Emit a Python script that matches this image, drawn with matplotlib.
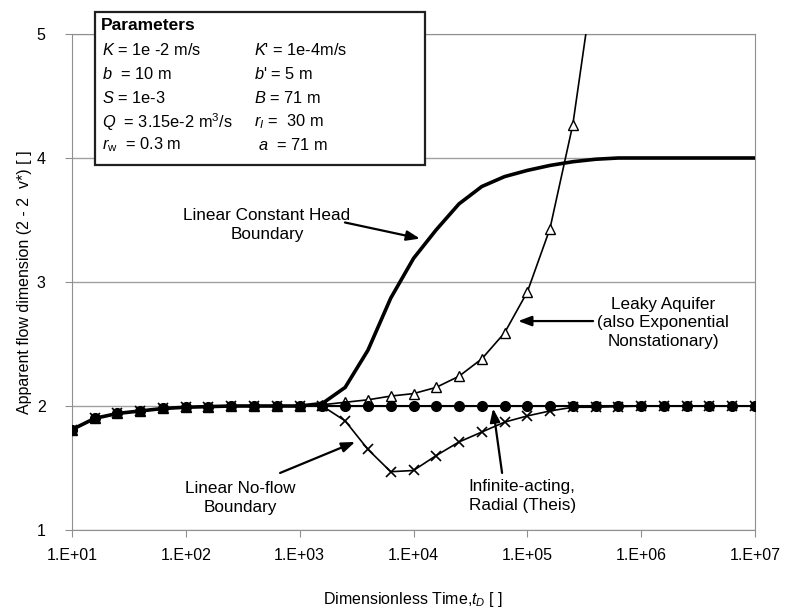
import matplotlib
matplotlib.use("Agg")
import numpy as np
import matplotlib.pyplot as plt
from matplotlib.patches import Rectangle

plt.rcParams['font.family'] = ['Liberation Sans', 'DejaVu Sans']
plt.rcParams['mathtext.fontset'] = 'custom'
plt.rcParams['mathtext.rm'] = 'Liberation Sans'
plt.rcParams['mathtext.it'] = 'Liberation Sans:italic'

# dimensionless time (0.2 decade steps)
t_D = [1.0e1, 1.58e1, 2.51e1, 3.98e1, 6.31e1, 1.0e2, 1.58e2, 2.51e2, 3.98e2, 6.31e2,
       1.0e3, 1.58e3, 2.51e3, 3.98e3, 6.31e3, 1.0e4, 1.58e4, 2.51e4, 3.98e4, 6.31e4,
       1.0e5, 1.58e5, 2.51e5, 3.98e5, 6.31e5, 1.0e6, 1.58e6, 2.51e6, 3.98e6, 6.31e6, 1.0e7]

early = [1.81, 1.90, 1.94, 1.96, 1.98, 1.99, 1.995, 2.0, 2.0, 2.0, 2.0]

theis = early + [2.0] * 20
const_head = early + [2.02, 2.15, 2.45, 2.87, 3.19, 3.42, 3.63, 3.77, 3.85, 3.90,
                      3.94, 3.97, 3.99, 4.0, 4.0, 4.0, 4.0, 4.0, 4.0, 4.0]
leaky = early + [2.01, 2.03, 2.05, 2.08, 2.10, 2.15, 2.24, 2.38, 2.59, 2.92,
                 3.43, 4.27, 5.55] + [np.nan] * 7
no_flow = early + [2.0, 1.88, 1.65, 1.47, 1.48, 1.60, 1.71, 1.79, 1.87, 1.92,
                   1.96, 1.99, 1.99, 1.995, 2.0, 2.0, 2.0, 2.0, 2.0, 2.0]

x_ticks = [1e1, 1e2, 1e3, 1e4, 1e5, 1e6, 1e7]
x_tick_labels = ['1.E+01', '1.E+02', '1.E+03', '1.E+04', '1.E+05', '1.E+06', '1.E+07']
y_ticks = [1, 2, 3, 4, 5]

fig = plt.figure(figsize=(7.88, 6.12), dpi=100)
ax = fig.add_axes([72 / 788, 1 - 530 / 612, (755 - 72) / 788, (530 - 34) / 612])

ax.plot(t_D, const_head, color='black', lw=2.6, zorder=3)
ax.plot(t_D, leaky, color='black', lw=1.2, marker='^', ms=7, mfc='white',
        mec='black', mew=1.0, zorder=4)
ax.plot(t_D, no_flow, color='black', lw=1.2, marker='x', ms=7, mew=1.2, zorder=5)
ax.plot(t_D, theis, color='black', lw=1.5, marker='o', ms=7, zorder=6)

ax.set_xscale('log')
ax.set_xlim(1e1, 1e7)
ax.set_ylim(1, 5)
ax.set_xticks(x_ticks)
ax.set_xticklabels(x_tick_labels)
ax.xaxis.set_minor_locator(matplotlib.ticker.NullLocator())
ax.set_yticks(y_ticks)
ax.yaxis.grid(True, color='#a0a0a0', lw=1.0)
ax.set_axisbelow(True)
for s in ax.spines.values():
    s.set_color('#909090')
ax.tick_params(colors='#909090', labelcolor='black', labelsize=11.5, length=5,
               direction='out')
ax.tick_params(axis='x', pad=8)
ax.tick_params(axis='y', pad=14)

ax.set_xlabel('Dimensionless Time,$t_D$ [ ]', fontsize=11.5)
ax.xaxis.set_label_coords(0.5, -0.12)
ax.set_ylabel('Apparent flow dimension (2 - 2  v*) [ ]', fontsize=11.5)
ax.yaxis.set_label_coords(-0.058, 0.5)

# annotations
fs = 12.3
arrow = dict(arrowstyle='-|>,head_length=0.8,head_width=0.3', color='black',
             lw=1.6, shrinkA=0, shrinkB=0)
ax.text(516, 3.46, 'Linear Constant Head\nBoundary', ha='center', va='center',
        fontsize=fs, linespacing=1.35)
ax.annotate('', xy=(11400, 3.35), xytext=(2500, 3.48), arrowprops=arrow)

ax.text(1.56e6, 2.67, 'Leaky Aquifer\n(also Exponential\nNonstationary)',
        ha='center', va='center', fontsize=fs, linespacing=1.3)
ax.annotate('', xy=(8.3e4, 2.685), xytext=(3.78e5, 2.685), arrowprops=arrow)

ax.text(9.0e4, 1.274, 'Infinite-acting,\nRadial (Theis)', ha='center',
        va='center', fontsize=fs, linespacing=1.35)
ax.annotate('', xy=(5.0e4, 1.98), xytext=(6.0e4, 1.46), arrowprops=arrow)

ax.text(299, 1.258, 'Linear No-flow\nBoundary', ha='center', va='center',
        fontsize=fs, linespacing=1.35)
ax.annotate('', xy=(3070, 1.71), xytext=(673, 1.46), arrowprops=arrow)

# parameters box
fig.patches.append(Rectangle((95 / 788, 1 - 165 / 612), 330 / 788, 153 / 612,
                             transform=fig.transFigure, facecolor='white',
                             edgecolor='#202020', lw=1.6, zorder=10))
px = lambda v: v / 788
py = lambda v: 1 - v / 612
fig.text(px(101), py(25), 'Parameters', fontsize=12.5, fontweight='bold',
         va='center', zorder=11)
left_col = ['$K$ = 1e -2 m/s', '$b$  = 10 m', '$S$ = 1e-3',
            '$Q$  = 3.15e-2 m$^3$/s', '$r$$_{\\rm w}$  = 0.3 m']
right_col = ["$K$' = 1e-4m/s", "$b$' = 5 m", '$B$ = 71 m',
             '$r$$_{I}$ =  30 m', ' $a$  = 71 m']
rows_y = [50, 74, 98, 122, 145]
for ly, lt, rt in zip(rows_y, left_col, right_col):
    fig.text(px(102), py(ly), lt, fontsize=11.8, va='center', zorder=11)
    fig.text(px(254), py(ly), rt, fontsize=11.8, va='center', zorder=11)

fig.savefig('out.png', dpi=100)
